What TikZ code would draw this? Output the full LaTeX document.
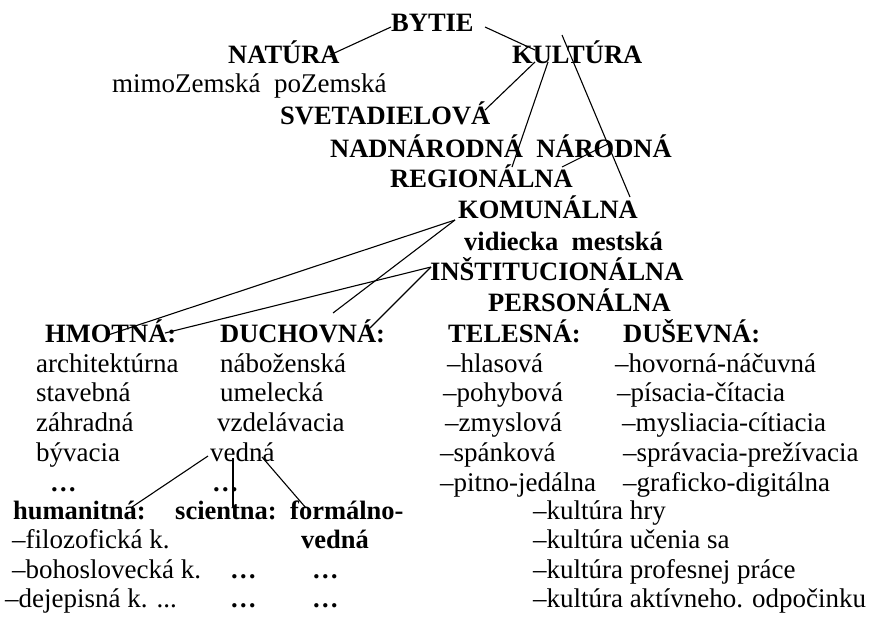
\documentclass[tikz,border=0pt]{standalone}
\usepackage{fontspec}
\setmainfont{Liberation Serif}
\begin{document}
\begin{tikzpicture}[x=1pt,y=-1pt]
\tikzset{
 bt/.style={font=\fontsize{26.5}{30}\selectfont\bfseries, inner sep=0pt, anchor=base west},
 rt/.style={font=\fontsize{27}{30}\selectfont, inner sep=0pt, anchor=base west},
 con/.style={line width=1.1pt, black}
}
\useasboundingbox (0,0) rectangle (869,627);
% tree
\node[bt] (bytie) at (391,31) {BYTIE};
\node[bt] (natura) at (228,63) {NATÚRA};
\node[bt] (kultura) at (512,63) {KULTÚRA};
\node[rt] (mimo) at (112,92) {mimoZemská~ poZemská};
\node[bt] (svet) at (280,124) {SVETADIELOVÁ};
\node[bt] (nadn) at (330,157) {NADNÁRODNÁ~ NÁRODNÁ};
\node[bt] (region) at (390,187) {REGIONÁLNA};
\node[bt] (komun) at (458,218) {KOMUNÁLNA};
\node[bt] (vidiecka) at (464,250) {vidiecka~ mestská};
\node[bt] (inst) at (430,280) {INŠTITUCIONÁLNA};
\node[bt] (person) at (488,311) {PERSONÁLNA};
% headers
\node[bt] (hmotna) at (45,342) {HMOTNÁ:};
\node[bt] (duchovna) at (220,342) {DUCHOVNÁ:};
\node[bt] (telesna) at (448,342) {TELESNÁ:};
\node[bt] (dusevna) at (623,342) {DUŠEVNÁ:};
% hmotna list
\node[rt] (h1) at (36,372) {architektúrna};
\node[rt] (h2) at (36,401) {stavebná};
\node[rt] (h3) at (36,431) {záhradná};
\node[rt] (h4) at (36,461) {bývacia};
\node[bt] (h5) at (50,491) {…};
% duchovna list
\node[rt] (d1) at (220,372) {náboženská};
\node[rt] (d2) at (220,401) {umelecká};
\node[rt] (d3) at (217,431) {vzdelávacia};
\node[rt] (vedna) at (210,461) {vedná};
\node[bt] (d5) at (212,491) {…};
% vedna subtree
\node[bt] (human) at (13,519) {humanitná:};
\node[bt] (scient) at (175,519) {scientna:};
\node[bt] (formal) at (290,519) {formálno-};
\node[bt] (formal2) at (301,548) {vedná};
\node[rt] (hu1) at (12,548) {–filozofická k.};
\node[rt] (hu2) at (12,578) {–bohoslovecká k.};
\node[rt] (hu3) at (5,607) {–dejepisná k. ...};
\node[bt] (sc2) at (230,578) {…};
\node[bt] (sc3) at (230,607) {…};
\node[bt] (fo2) at (312,578) {…};
\node[bt] (fo3) at (312,607) {…};
% telesna list
\node[rt] (t1) at (447,372) {–hlasová};
\node[rt] (t2) at (443,401) {–pohybová};
\node[rt] (t3) at (445,431) {–zmyslová};
\node[rt] (t4) at (440,461) {–spánková};
\node[rt] (t5) at (440,491) {–pitno-jedálna};
% dusevna list
\node[rt] (u1) at (615,372) {–hovorná-náčuvná};
\node[rt] (u2) at (617,401) {–písacia-čítacia};
\node[rt] (u3) at (622,431) {–mysliacia-cítiacia};
\node[rt] (u4) at (623,461) {–správacia-prežívacia};
\node[rt] (u5) at (623,491) {–graficko-digitálna};
% kultura list
\node[rt] (k1) at (533,519) {–kultúra hry};
\node[rt] (k2) at (533,548) {–kultúra učenia sa};
\node[rt] (k3) at (533,578) {–kultúra profesnej práce};
\node[rt] (k4) at (533,607) {–kultúra aktívneho. odpočinku};
% connectors
\draw[con] ([yshift=4pt]bytie.base west) -- ([xshift=102pt,yshift=8pt]natura.base west);
\draw[con] ([xshift=94pt,yshift=4pt]bytie.base west) -- ([xshift=23pt,yshift=13pt]kultura.base west);
\draw[con] ([xshift=23pt,yshift=1pt]kultura.base west) -- ([xshift=205pt,yshift=14pt]svet.base west);
\draw[con] ([xshift=36pt,yshift=1pt]kultura.base west) -- ([xshift=122pt,yshift=20pt]region.base west);
\draw[con] ([xshift=50pt,yshift=28pt]kultura.base west) -- ([xshift=172pt,yshift=21pt]komun.base west);
\draw[con] ([xshift=172pt,yshift=20pt]region.base west) -- ([xshift=278pt,yshift=13pt]nadn.base west);
\draw[con] ([xshift=-3pt,yshift=-2pt]komun.base west) -- ([xshift=63pt,yshift=7pt]hmotna.base west);
\draw[con] ([xshift=-3pt,yshift=-2pt]komun.base west) -- ([xshift=113pt,yshift=29pt]duchovna.base west);
\draw[con] ([xshift=1pt,yshift=13pt]inst.base west) -- ([xshift=120pt,yshift=9pt]hmotna.base west);
\draw[con] ([xshift=1pt,yshift=13pt]inst.base west) -- ([xshift=150pt,yshift=14pt]duchovna.base west);
\draw[con] ([xshift=-2pt,yshift=5pt]vedna.base west) -- ([xshift=119pt,yshift=12pt]human.base west);
\draw[con] ([xshift=23pt,yshift=3pt]vedna.base west) -- ([xshift=58pt,yshift=12pt]scient.base west);
\draw[con] ([xshift=52pt,yshift=4pt]vedna.base west) -- ([xshift=16pt,yshift=11pt]formal.base west);
\end{tikzpicture}
\end{document}
